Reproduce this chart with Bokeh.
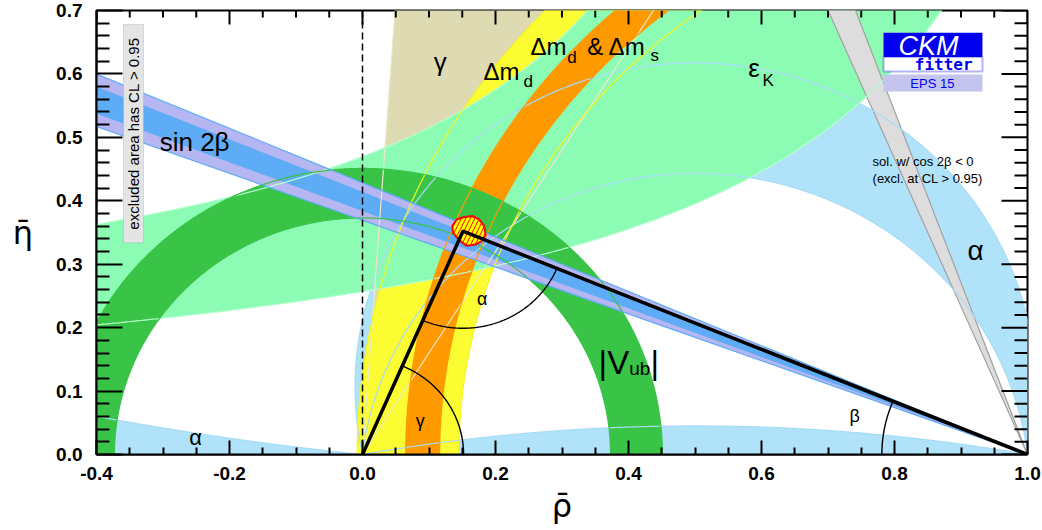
import numpy as np
from bokeh.plotting import figure
from bokeh.models import (Range1d, FixedTicker, NumeralTickFormatter,
                          Label, BoxAnnotation, Span)
from bokeh.embed import file_html
from bokeh.resources import INLINE

# ---------------- values ----------------
rho_range = [-0.4, 1.0]
eta_range = [0.0, 0.7]
rho_ticks = [-0.4, -0.2, 0.0, 0.2, 0.4, 0.6, 0.8, 1.0]
eta_ticks = [0.0, 0.1, 0.2, 0.3, 0.4, 0.5, 0.6, 0.7]
rho_minor_step = 0.05
eta_minor_step = 0.02

# unitarity triangle apex (best fit)
apex_rho = 0.151
apex_eta = 0.352
# CL region around the apex
apex_region_rho = [0.135, 0.142, 0.152, 0.165, 0.175, 0.183, 0.185, 0.180, 0.170, 0.157, 0.150, 0.142, 0.136]
apex_region_eta = [0.360, 0.371, 0.374, 0.376, 0.371, 0.360, 0.347, 0.337, 0.331, 0.329, 0.334, 0.342, 0.350]

sin2beta_68 = [0.669, 0.707]
sin2beta_95 = [0.650, 0.724]
vub_radius = [0.373, 0.451]        # |Vub| ring around (0,0)
dmd_radius = [0.855, 1.008]        # Delta m_d ring around (1,0)
dmd_dms_radius = [0.884, 0.935]    # Delta m_d & Delta m_s ring around (1,0)
gamma_deg = [58.0, 86.0]
alpha_deg = [78.0, 96.9]
alpha_near_180_deg = 169.7
alpha_near_0_deg = 6.1
epsk_upper = [0.265, 0.816, 0.145]    # eta = k / (a - rho) + b
epsk_lower = [0.2952, 1.3122, 0.0319]
arc_radius_alpha = 0.153
arc_radius_beta = 0.219
arc_radius_gamma = 0.152

# ---------------- colours ----------------
C_ALPHA = "#b0e2fa"
C_GAMMA = "#dedbb3"
C_DMD = "#fcfc33"
C_EPSK = "#8cfcb4"
C_DMS = "#ff9900"
C_VUB = "#39c447"
C_S2B_95 = "#b6b6f2"
C_S2B_68 = "#5eabf6"
C_GREY = "#dddddd"

FONT = "Liberation Sans"

p = figure(width=1042, height=530,
           x_range=Range1d(*rho_range), y_range=Range1d(*eta_range),
           output_backend="svg", toolbar_location=None,
           min_border_left=96, min_border_right=15, min_border_top=10, min_border_bottom=76)
p.grid.visible = False
p.outline_line_color = "black"
p.outline_line_width = 2
p.background_fill_color = "white"
p.border_fill_color = "white"


def minor_list(major, step):
    lo, hi = major[0], major[-1]
    n = int(round((hi - lo) / step))
    vals = [round(lo + i * step, 4) for i in range(n + 1)]
    return [v for v in vals if all(abs(v - m) > 1e-6 for m in major)]


rho_minor = minor_list(rho_ticks, rho_minor_step)
eta_minor = minor_list(eta_ticks, eta_minor_step)


def style_axis(ax, major, minor, major_in, minor_in, standoff):
    ax.ticker = FixedTicker(ticks=major, minor_ticks=minor)
    ax.formatter = NumeralTickFormatter(format="0.0")
    ax.major_tick_in = major_in
    ax.major_tick_out = 0
    ax.minor_tick_in = minor_in
    ax.minor_tick_out = 0
    ax.major_tick_line_width = 2
    ax.minor_tick_line_width = 2
    ax.axis_line_width = 2
    ax.major_tick_line_color = "black"
    ax.minor_tick_line_color = "black"
    ax.axis_line_color = "black"
    ax.major_label_text_font = FONT
    ax.major_label_text_font_style = "bold"
    ax.major_label_text_font_size = "19px"
    ax.major_label_text_color = "black"
    ax.major_label_standoff = standoff
    ax.axis_label_text_font = "DejaVu Sans"
    ax.axis_label_text_font_style = "normal"
    ax.axis_label_text_font_size = "32px"
    ax.axis_label_text_color = "black"


xax = p.xaxis[0]
yax = p.yaxis[0]
style_axis(xax, rho_ticks, rho_minor, 14, 7, 12)
style_axis(yax, eta_ticks, eta_minor, 26, 13, 14)
xax.axis_label = "ρ\u0304"
xax.axis_label_standoff = 4
yax.axis_label = "η\u0304"
yax.axis_label_standoff = 20
if "axis_label_orientation" in yax.properties():
    yax.axis_label_orientation = "horizontal"


# ---------------- geometry helpers ----------------
def half_ring(cx, r_in, r_out, n=500):
    t = np.linspace(0, np.pi, n)
    xs = np.concatenate([cx + r_out * np.cos(t), cx + r_in * np.cos(t[::-1])])
    ys = np.concatenate([r_out * np.sin(t), r_in * np.sin(t[::-1])])
    return xs, ys


def half_circle(cx, r, n=500):
    t = np.linspace(0, np.pi, n)
    return cx + r * np.cos(t), r * np.sin(t)


def alpha_arc(alpha_d, n=500):
    a = np.radians(alpha_d)
    cy = 0.5 / np.tan(a)
    R = 0.5 / np.sin(a)
    t1 = np.arctan2(-cy, 0.5)
    t = np.linspace(t1, np.pi - t1, n)
    return 0.5 + R * np.cos(t), cy + R * np.sin(t)


def ray_pts(x0, ang, L=2.0):
    return [x0, x0 + L * np.cos(ang)], [0.0, L * np.sin(ang)]


def epsk_curve(par, rho_lo, eta_hi, n=500):
    k, a, b = par
    rho_hi = a - k / (eta_hi - b)
    r = np.linspace(rho_lo, rho_hi, n)
    return r, k / (a - r) + b


# ---------------- filled constraints ----------------
xa1, ya1 = alpha_arc(alpha_deg[0])
xa2, ya2 = alpha_arc(alpha_deg[1])
p.patch(np.concatenate([xa1, xa2[::-1]]), np.concatenate([ya1, ya2[::-1]]),
        fill_color=C_ALPHA, line_color=None)
xb, yb = alpha_arc(alpha_near_180_deg)
p.patch(xb, yb, fill_color=C_ALPHA, line_color=None)
a0 = np.radians(alpha_near_0_deg)
cy0 = 0.5 / np.tan(a0)
R0 = 0.5 / np.sin(a0)
xc = np.linspace(-0.6, 0.0, 300)
yc = cy0 - np.sqrt(R0 ** 2 - (xc - 0.5) ** 2)
p.patch(np.concatenate([xc, [0.0, -0.6]]), np.concatenate([yc, [0.0, 0.0]]),
        fill_color=C_ALPHA, line_color=None)

g1, g2 = np.radians(gamma_deg)
p.patch([0.0, 2 * np.cos(g1), 2 * np.cos(g2)], [0.0, 2 * np.sin(g1), 2 * np.sin(g2)],
        fill_color=C_GAMMA, line_color=None)

xs, ys = half_ring(1.0, dmd_radius[0], dmd_radius[1])
p.patch(xs, ys, fill_color=C_DMD, line_color=None)

xu, yu = epsk_curve(epsk_upper, -0.6, 0.8)
xl, yl = epsk_curve(epsk_lower, -0.6, 0.8)
p.patch(np.concatenate([xu, xl[::-1]]), np.concatenate([yu, yl[::-1]]),
        fill_color=C_EPSK, line_color=None)

xs, ys = half_ring(1.0, dmd_dms_radius[0], dmd_dms_radius[1])
p.patch(xs, ys, fill_color=C_DMS, line_color=None)

xs, ys = half_ring(0.0, vub_radius[0], vub_radius[1])
p.patch(xs, ys, fill_color=C_VUB, line_color=None)

b95 = 0.5 * np.arcsin(np.array(sin2beta_95))
b68 = 0.5 * np.arcsin(np.array(sin2beta_68))
for bb, col in ((b95, C_S2B_95), (b68, C_S2B_68)):
    p.patch([1.0, 1 + 2 * np.cos(np.pi - bb[0]), 1 + 2 * np.cos(np.pi - bb[1])],
            [0.0, 2 * np.sin(np.pi - bb[0]), 2 * np.sin(np.pi - bb[1])],
            fill_color=col, line_color=None)
bp = np.pi / 2 - b95
p.patch([1.0, 1 + 1.2 * np.cos(np.pi - bp[0]), 1 + 1.2 * np.cos(np.pi - bp[1])],
        [0.0, 1.2 * np.sin(np.pi - bp[0]), 1.2 * np.sin(np.pi - bp[1])],
        fill_color=C_GREY, line_color="#a0a0a0", line_width=1.2)

# ---------------- contour lines on top ----------------
LW = 1.2
for x_, y_ in ((xa1, ya1), (xa2, ya2), (xb, yb), (xc, yc)):
    p.line(x_, y_, line_color="#a8dcf6", line_width=LW)
for g in (g1, g2):
    rx, ry = ray_pts(0.0, g)
    p.line(rx, ry, line_color="#ebe7cc", line_width=LW)
for r in dmd_radius:
    cx_, cy_ = half_circle(1.0, r)
    p.line(cx_, cy_, line_color="#f4f41e", line_width=LW)
p.line(xu, yu, line_color="#b4ffd0", line_width=LW)
p.line(xl, yl, line_color="#b4ffd0", line_width=LW)
for r in dmd_dms_radius:
    cx_, cy_ = half_circle(1.0, r)
    p.line(cx_, cy_, line_color=C_DMS, line_width=LW)
for r in vub_radius:
    cx_, cy_ = half_circle(0.0, r)
    p.line(cx_, cy_, line_color=C_VUB, line_width=LW)
for bb in b95:
    rx, ry = ray_pts(1.0, np.pi - bb)
    p.line(rx, ry, line_color=C_S2B_68, line_width=LW)

p.add_layout(Span(location=0.0, dimension="height", line_color="black",
                  line_width=1.5, line_dash="7 4"))

# ---------------- triangle and angles ----------------
ang_left = np.arctan2(-apex_eta, -apex_rho)
ang_right = np.arctan2(-apex_eta, 1.0 - apex_rho)
t = np.linspace(ang_left, ang_right, 200)
p.line(apex_rho + arc_radius_alpha * np.cos(t), apex_eta + arc_radius_alpha * np.sin(t),
       line_color="black", line_width=1.4)
t = np.linspace(0, np.arctan2(apex_eta, apex_rho), 200)
p.line(arc_radius_gamma * np.cos(t), arc_radius_gamma * np.sin(t), line_color="black", line_width=1.4)
t = np.linspace(np.arctan2(apex_eta, apex_rho - 1.0), np.pi, 200)
p.line(1.0 + arc_radius_beta * np.cos(t), arc_radius_beta * np.sin(t), line_color="black", line_width=1.4)

p.patch(apex_region_rho, apex_region_eta, fill_color="#ffff00", line_color="#ff0000", line_width=2,
        hatch_pattern="/", hatch_color="#ff0000", hatch_scale=9, hatch_weight=1.0)
p.line([0.0, apex_rho, 1.0], [0.0, apex_eta, 0.0], line_color="black", line_width=3.5)

# mirrored ticks on the top and right frame edges
p.ray(x=rho_ticks, y=[eta_range[1]] * len(rho_ticks), length=14, length_units="screen",
      angle=-np.pi / 2, line_color="black", line_width=2)
p.ray(x=rho_minor, y=[eta_range[1]] * len(rho_minor), length=7, length_units="screen",
      angle=-np.pi / 2, line_color="black", line_width=2)
p.ray(x=[rho_range[1]] * len(eta_ticks), y=eta_ticks, length=26, length_units="screen",
      angle=np.pi, line_color="black", line_width=2)
p.ray(x=[rho_range[1]] * len(eta_minor), y=eta_minor, length=13, length_units="screen",
      angle=np.pi, line_color="black", line_width=2)

# ---------------- boxes ----------------
p.add_layout(BoxAnnotation(left=-0.3594, right=-0.3293, bottom=0.3338, top=0.678,
                           fill_color="#e4e4e4", fill_alpha=1, line_color="#9a9a9a", line_width=1))
p.add_layout(BoxAnnotation(left=0.7835, right=0.9323, bottom=0.6266, top=0.665,
                           fill_color="#0000ee", fill_alpha=1, line_color=None))
p.add_layout(BoxAnnotation(left=0.7835, right=0.9323, bottom=0.6038, top=0.6266,
                           fill_color="white", fill_alpha=1, line_color="#0000ee", line_width=2))
p.add_layout(BoxAnnotation(left=0.7835, right=0.9323, bottom=0.5723, top=0.599,
                           fill_color="#c4c4ee", fill_alpha=1, line_color=None))


def lab(x, y, text, size, align="left", color="black", style="normal", angle=0.0, font=FONT):
    p.add_layout(Label(x=x, y=y, text=text, text_font=font, text_font_size=f"{size}px",
                       text_align=align, text_baseline="middle", text_color=color,
                       text_font_style=style, angle=angle))


lab(-0.344, 0.506, "excluded area has CL > 0.95", 15, "center", angle=np.pi / 2)
lab(0.806, 0.6448, "CKM", 27, color="white", style="italic")
lab(0.874, 0.6152, "fitter", 16, "center", color="#0000ee", style="bold", font="DejaVu Sans Mono")
lab(0.857, 0.585, "EPS 15", 13, "center", color="#0000ee")

lab(-0.305, 0.4923, "sin 2β", 26)
lab(0.117, 0.619, "γ", 26, "center")
lab(0.182, 0.6044, "Δm", 24)
lab(0.242, 0.588, "d", 17)
lab(0.2526, 0.6437, "Δm", 24)
lab(0.308, 0.626, "d", 17)
lab(0.338, 0.6437, "& Δm", 24)
lab(0.433, 0.629, "s", 17)
lab(0.580, 0.610, "ε", 26)
lab(0.6015, 0.590, "K", 17)
lab(0.767, 0.462, "sol. w/ cos 2β < 0", 13)
lab(0.767, 0.435, "(excl. at CL > 0.95)", 13)
lab(0.922, 0.321, "α", 28, "center")
lab(-0.251, 0.027, "α", 22, "center")
lab(0.355, 0.1454, "|V", 33)
lab(0.401, 0.136, "ub", 19)
lab(0.433, 0.1454, "|", 33)
lab(0.180, 0.245, "α", 18, "center")
lab(0.087, 0.053, "γ", 18, "center")
lab(0.740, 0.061, "β", 18, "center")

open("out.html", "w").write(file_html(p, INLINE))
